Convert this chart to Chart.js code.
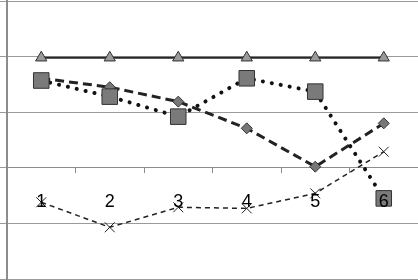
<!DOCTYPE html>
<html>
<head>
<meta charset="utf-8">
<script src="https://cdn.jsdelivr.net/npm/chart.js@4"></script>
<style>
  html, body { margin: 0; padding: 0; background: #fff; overflow: hidden; }
  #wrap { width: 418px; height: 280px; }
</style>
</head>
<body>
<div id="wrap"><canvas id="myChart"></canvas></div>
<script>
var labels = ['1', '2', '3', '4', '5', '6'];
var triangles = [3.98, 3.98, 3.98, 3.98, 3.98, 3.98];
var squares = [3.57, 3.28, 2.92, 3.61, 3.37, 1.45];
var diamonds = [3.61, 3.45, 3.19, 2.71, 2.02, 2.80];
var crosses = [1.38, 0.93, 1.29, 1.27, 1.54, 2.29];
var yTicks = [0, 1, 2, 3, 4, 5];

var ctx = document.getElementById('myChart').getContext('2d');

var myChart = new Chart(ctx, {
  type: 'line',
  data: {
    labels: labels,
    datasets: [
      {
        label: 'Triangulos',
        data: triangles,
        borderColor: '#262626',
        borderWidth: 2,
        pointStyle: 'triangle',
        pointRadius: 6.5,
        pointBackgroundColor: '#9a9a9a',
        pointBorderColor: '#333',
        pointBorderWidth: 1
      },
      {
        label: 'Cuadrados',
        data: squares,
        borderColor: '#111',
        borderWidth: 4,
        borderDash: [0.1, 9],
        borderCapStyle: 'round',
        pointStyle: 'rect',
        pointRadius: 11,
        pointBackgroundColor: '#7a7a7a',
        pointBorderColor: '#333',
        pointBorderWidth: 1
      },
      {
        label: 'Rombos',
        data: diamonds,
        borderColor: '#222',
        borderWidth: 3,
        borderDash: [9, 5],
        pointStyle: 'rectRot',
        pointRadius: 5.5,
        pointBackgroundColor: '#777',
        pointBorderColor: '#333',
        pointBorderWidth: 1
      },
      {
        label: 'Cruces',
        data: crosses,
        borderColor: '#222',
        borderWidth: 1.5,
        borderDash: [5, 4],
        pointStyle: 'crossRot',
        pointRadius: 7,
        pointBorderColor: '#222',
        pointBorderWidth: 1
      }
    ]
  },
  options: {
    responsive: true,
    maintainAspectRatio: false,
    animation: false,
    layout: { autoPadding: false, padding: { top: 1, bottom: 1, left: 0, right: 0 } },
    plugins: {
      legend: { display: false },
      title: { display: false },
      tooltip: { enabled: false }
    },
    scales: {
      x: {
        position: { y: 2 },
        offset: true,
        afterFit: function (scale) {
          scale.height = 0;
          scale.paddingLeft = 0;
          scale.paddingRight = 0;
        },
        grid: {
          offset: true,
          drawOnChartArea: false,
          drawTicks: true,
          tickLength: 5,
          color: '#8c8c8c'
        },
        border: { color: '#8c8c8c', width: 1 },
        ticks: {
          z: 1,
          padding: 18,
          color: '#000',
          font: { family: 'Liberation Sans', size: 18 }
        }
      },
      y: {
        min: 0,
        max: 5,
        afterFit: function (scale) {
          scale.width = 7;
          scale.paddingTop = 0;
          scale.paddingBottom = 0;
        },
        afterBuildTicks: function (scale) {
          scale.ticks = yTicks.map(function (v) { return { value: v }; });
        },
        grid: {
          color: '#9a9a9a',
          tickLength: 7,
          drawTicks: true
        },
        border: { color: '#8c8c8c', width: 2 },
        ticks: { display: false }
      }
    }
  }
});
</script>
</body>
</html>
